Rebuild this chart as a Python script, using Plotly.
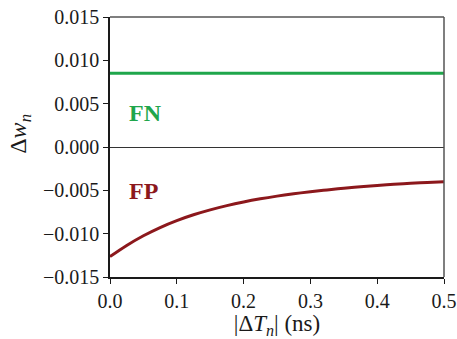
import plotly.graph_objects as go

# data
dt_ns = [0.0, 0.025, 0.05, 0.075, 0.1, 0.125, 0.15, 0.175, 0.2, 0.225, 0.25, 0.275, 0.3,
         0.325, 0.35, 0.375, 0.4, 0.425, 0.45, 0.475, 0.5]
fp_dw = [-0.01265, -0.01136, -0.01024, -0.00929, -0.00849, -0.00782, -0.00725, -0.00676,
         -0.00634, -0.00598, -0.00567, -0.00540, -0.00516, -0.00495, -0.00476, -0.00459,
         -0.00444, -0.00431, -0.00419, -0.00409, -0.00401]
fn_x = [0.0, 0.5]
fn_dw = [0.0085, 0.0085]
y_ticks = [0.015, 0.010, 0.005, 0.000, -0.005, -0.010, -0.015]
x_ticks = [0.0, 0.1, 0.2, 0.3, 0.4, 0.5]

green = "#1fa64b"
red = "#8c181c"
font = "Liberation Serif"
ink = "#1a1a1a"

fig = go.Figure()
fig.add_trace(go.Scatter(x=fn_x, y=fn_dw, mode="lines", line=dict(color=green, width=3), showlegend=False))
fig.add_trace(go.Scatter(x=dt_ns, y=fp_dw, mode="lines", line=dict(color=red, width=3, shape="spline"), showlegend=False))

fig.add_annotation(x=0.026, y=0.0039, text="<b>FN</b>", showarrow=False, xanchor="left",
                   font=dict(family=font, size=24, color=green))
fig.add_annotation(x=0.026, y=-0.0051, text="<b>FP</b>", showarrow=False, xanchor="left",
                   font=dict(family=font, size=24, color=red))
# y-axis title
fig.add_annotation(xref="paper", yref="paper", x=-0.27, y=0.55, text="Δ<i>w</i><sub><i>n</i></sub>",
                   textangle=-90, showarrow=False, xanchor="center", yanchor="middle",
                   font=dict(family=font, size=24, color=ink))

# top/right frame lines (lighter)
fig.add_shape(type="line", xref="x domain", yref="y domain", x0=0, x1=1, y0=1, y1=1,
              line=dict(color="#555", width=1.5))
fig.add_shape(type="line", xref="x domain", yref="y domain", x0=1, x1=1, y0=0, y1=1,
              line=dict(color="#555", width=1.5))

tick_font = dict(family=font, size=20, color=ink)

fig.update_layout(
    width=457, height=339,
    margin=dict(l=110, r=13, t=17, b=62),
    plot_bgcolor="white", paper_bgcolor="white",
    font=dict(family=font, size=20, color=ink),
    xaxis=dict(range=[0, 0.5], tickvals=x_ticks, ticktext=[f"{v:.1f}" for v in x_ticks],
               tickfont=tick_font,
               ticks="outside", ticklen=5, tickcolor=ink, showline=True, linecolor=ink,
               linewidth=1.5, mirror=False, showgrid=False, zeroline=False, automargin=False,
               title=dict(text="|Δ<i>T</i><sub><i>n</i></sub>| (ns)", standoff=11,
                          font=dict(family=font, size=23, color=ink))),
    yaxis=dict(range=[-0.015, 0.015], tickvals=y_ticks, tickformat=".3f",
               tickfont=tick_font,
               ticks="outside", ticklen=5, tickcolor=ink, showline=True, linecolor=ink,
               linewidth=1.5, mirror=False, showgrid=False, zeroline=True, zerolinecolor="#333",
               zerolinewidth=1.2, automargin=False),
)

fig.write_html("out.html")
